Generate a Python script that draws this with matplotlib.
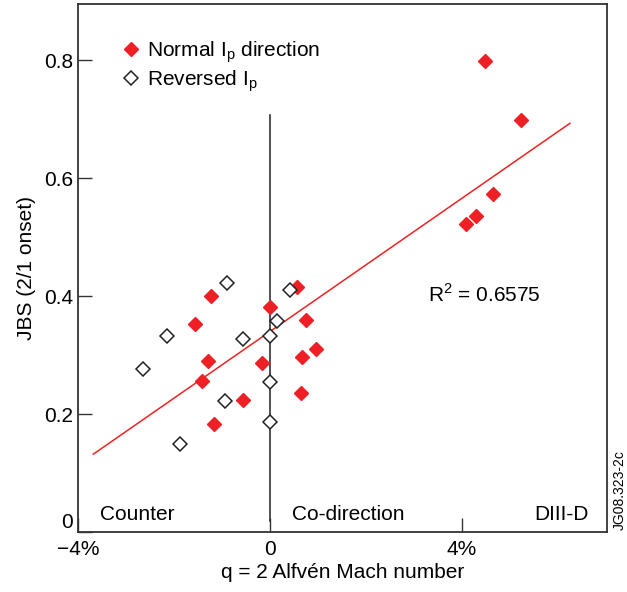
import numpy as np
import matplotlib
matplotlib.use("Agg")
import matplotlib.pyplot as plt

plt.rcParams['font.family'] = ['Liberation Sans', 'DejaVu Sans']

# normal Ip direction (red filled)
normal_x = [-1.22, -1.56, -1.29, -1.42, -1.17, -0.57, -0.17, -0.01, 0.56, 0.74, 0.67, 0.96, 0.64,
            4.47, 5.24, 4.64, 4.29, 4.08]
normal_y = [0.400, 0.353, 0.290, 0.256, 0.183, 0.224, 0.286, 0.381, 0.416, 0.360, 0.297, 0.310, 0.236,
            0.798, 0.698, 0.573, 0.536, 0.523]

# reversed Ip (open)
rev_x = [-0.89, 0.42, 0.14, 0.0, -0.57, -2.14, -2.64, 0.0, -0.94, 0.0, -1.88]
rev_y = [0.422, 0.410, 0.358, 0.332, 0.327, 0.333, 0.277, 0.254, 0.222, 0.187, 0.149]

# fit line end points
fit_x = [-3.68, 6.25]
fit_y = [0.132, 0.693]

fs = 15

fig = plt.figure(figsize=(6.27, 5.92), dpi=100)
ax = fig.add_axes([0.1244, 0.1014, 0.968 - 0.1244, 0.993 - 0.1014])

ax.plot([0, 0], [0.018, 0.707], color='#333333', lw=1.2, zorder=1)
ax.plot(fit_x, fit_y, color='#ee2222', lw=1.1, zorder=2)
ax.plot(normal_x, normal_y, 'D', ms=7.5, color='#ee2025', mec='#ee2025', lw=0, zorder=3,
        label=r'Normal I$_\mathregular{p}$ direction')
ax.plot(rev_x, rev_y, 'D', ms=7.5, mfc='white', mec='#222222', mew=1.1, lw=0, zorder=4,
        label=r'Reversed I$_\mathregular{p}$')

ax.set_xlim(-4, 7.02)
ax.set_ylim(0, 0.895)
ax.set_xticks([-4, 0, 4])
ax.set_xticklabels(['\u22124%', '0', '4%'])
ax.set_yticks([0, 0.2, 0.4, 0.6, 0.8])
ax.set_yticklabels(['0', '0.2', '0.4', '0.6', '0.8'])
ax.get_yticklabels()[0].set_va('bottom')
ax.tick_params(direction='in', length=10, width=1, labelsize=fs, color='#333333')
ax.tick_params(axis='x', pad=6)
for s in ax.spines.values():
    s.set_color('#333333')
    s.set_linewidth(1.3)

ax.set_xlabel('q = 2 Alfvén Mach number', fontsize=fs, labelpad=3)
ax.set_ylabel('JBS (2/1 onset)', fontsize=fs, labelpad=6)

ax.legend(loc='upper left', bbox_to_anchor=(0.06, 0.95), frameon=False, fontsize=fs,
          handletextpad=0.2, borderaxespad=0, labelspacing=0.15, handlelength=1.2)

ax.text(-3.55, 0.02, 'Counter', fontsize=fs)
ax.text(0.45, 0.02, 'Co-direction', fontsize=fs)
ax.text(5.5, 0.02, 'DIII-D', fontsize=fs)
ax.text(3.3, 0.39, r'R$^\mathregular{2}$ = 0.6575', fontsize=fs)
fig.text(0.989, 0.172, 'JG08.323-2c', fontsize=10, rotation=90, ha='center', va='center')

fig.savefig('out.png', dpi=100)
